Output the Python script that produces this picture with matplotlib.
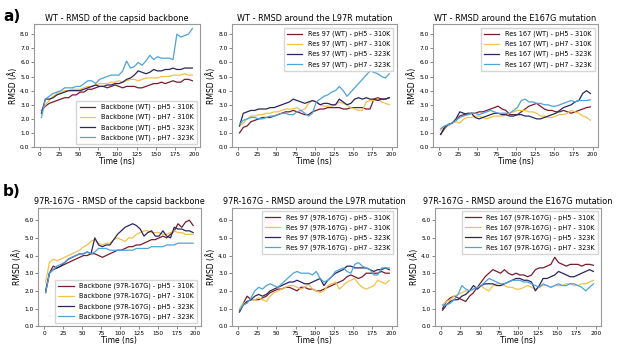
import matplotlib
matplotlib.use("Agg")
import matplotlib.pyplot as plt
from matplotlib.ticker import FormatStrFormatter

# time axis (ns)
TIME = [2, 7, 12, 17, 22, 27, 32, 37, 42, 47, 52, 57, 62, 67, 72, 77, 82, 87, 92, 97,
        102, 107, 112, 117, 122, 127, 132, 137, 142, 147, 152, 157, 162, 167, 172, 177, 182, 187, 192, 197]

CONDITIONS = ["pH5 - 310K", "pH7 - 310K", "pH5 - 323K", "pH7 - 323K"]
COLORS = ["#7a1c2c", "#f2c14e", "#29265f", "#4da3da"]

# a) WT
WT_BB_PH5_310 = [2.6, 2.9, 3.1, 3.2, 3.3, 3.4, 3.5, 3.5, 3.7, 3.7, 3.9, 3.9, 4.1, 4.1, 4.2, 4.3, 4.3, 4.2, 4.3, 4.4,
                 4.3, 4.2, 4.3, 4.3, 4.3, 4.2, 4.2, 4.3, 4.4, 4.5, 4.5, 4.6, 4.5, 4.6, 4.7, 4.6, 4.6, 4.8, 4.8, 4.7]
WT_BB_PH7_310 = [2.6, 3.0, 3.3, 3.6, 3.8, 3.9, 4.0, 4.0, 4.1, 4.1, 4.1, 4.2, 4.3, 4.3, 4.4, 4.5, 4.5, 4.5, 4.6, 4.6,
                 4.7, 4.6, 4.7, 4.8, 4.8, 4.7, 4.8, 4.9, 4.9, 4.9, 4.9, 5.0, 5.0, 5.0, 5.1, 5.1, 5.1, 5.2, 5.1, 5.1]
WT_BB_PH5_323 = [2.4, 3.4, 3.4, 3.5, 3.7, 3.8, 3.9, 4.0, 4.0, 4.0, 4.0, 4.1, 4.2, 4.3, 4.4, 4.3, 4.3, 4.4, 4.4, 4.5,
                 4.5, 4.6, 4.8, 4.9, 5.1, 5.4, 5.3, 5.2, 5.3, 5.5, 5.4, 5.4, 5.5, 5.5, 5.6, 5.5, 5.5, 5.6, 5.6, 5.6]
WT_BB_PH7_323 = [2.1, 3.4, 3.6, 3.8, 3.9, 4.0, 4.2, 4.2, 4.2, 4.3, 4.3, 4.5, 4.7, 4.7, 4.5, 4.8, 4.9, 5.0, 5.1, 5.1,
                 5.1, 5.4, 6.1, 5.6, 5.7, 6.0, 5.8, 6.1, 6.5, 6.2, 6.4, 6.3, 6.3, 6.3, 6.2, 8.0, 7.8, 7.9, 8.0, 8.4]

WT_97_PH5_310 = [1.0, 1.4, 1.5, 1.8, 1.9, 2.0, 2.1, 2.1, 2.1, 2.2, 2.3, 2.4, 2.5, 2.5, 2.6, 2.5, 2.4, 2.3, 2.3, 2.5,
                 2.6, 2.7, 2.7, 2.8, 2.8, 2.8, 2.8, 2.7, 2.7, 2.8, 2.8, 2.8, 2.8, 2.7, 2.7, 3.4, 3.5, 3.4, 3.4, 3.5]
WT_97_PH7_310 = [1.5, 1.7, 2.0, 2.2, 2.2, 2.3, 2.3, 2.4, 2.4, 2.5, 2.5, 2.6, 2.7, 2.7, 2.7, 2.8, 2.6, 2.7, 3.1, 3.3,
                 3.2, 3.0, 2.9, 2.9, 2.9, 3.0, 3.2, 3.1, 3.0, 2.8, 2.7, 2.6, 2.6, 3.2, 3.3, 3.3, 3.4, 3.2, 3.1, 3.0]
WT_97_PH5_323 = [1.5, 2.4, 2.5, 2.6, 2.6, 2.7, 2.7, 2.7, 2.8, 2.8, 2.9, 3.0, 3.1, 3.2, 3.4, 3.3, 3.2, 3.1, 3.2, 3.3,
                 3.2, 3.0, 3.1, 3.1, 3.0, 3.0, 3.4, 3.2, 3.0, 3.1, 3.4, 3.5, 3.4, 3.5, 3.4, 3.4, 3.3, 3.4, 3.4, 3.5]
WT_97_PH7_323 = [1.6, 1.9, 2.0, 2.1, 2.1, 2.0, 2.0, 2.1, 2.2, 2.2, 2.3, 2.4, 2.4, 2.3, 2.3, 2.5, 2.6, 2.4, 2.2, 2.4,
                 3.2, 3.4, 3.6, 3.7, 3.9, 4.0, 4.3, 4.0, 3.6, 3.9, 4.2, 4.5, 4.8, 5.1, 5.4, 5.3, 5.2, 5.0, 4.9, 5.2]

WT_167_PH5_310 = [0.9, 1.3, 1.6, 1.7, 1.9, 2.2, 2.3, 2.4, 2.4, 2.4, 2.5, 2.5, 2.6, 2.7, 2.8, 2.9, 2.7, 2.6, 2.3, 2.3,
                  2.3, 2.5, 2.7, 2.9, 3.0, 3.1, 2.9, 2.7, 2.6, 2.6, 2.5, 2.5, 2.6, 2.5, 2.4, 2.5, 2.6, 2.7, 2.8, 2.85]
WT_167_PH7_310 = [1.2, 1.4, 1.5, 1.7, 1.8, 1.7, 2.0, 2.1, 2.1, 2.2, 2.2, 2.1, 2.0, 2.1, 2.2, 2.2, 2.2, 2.3, 2.4, 2.5,
                  2.6, 2.6, 2.6, 2.5, 2.5, 2.4, 2.2, 2.2, 2.1, 2.1, 2.2, 2.3, 2.3, 2.4, 2.6, 2.5, 2.4, 2.2, 2.1, 1.9]
WT_167_PH5_323 = [0.9, 1.4, 1.6, 1.7, 2.0, 2.5, 2.4, 2.3, 2.4, 2.1, 2.0, 2.1, 2.2, 2.3, 2.4, 2.4, 2.3, 2.3, 2.2, 2.2,
                  2.3, 2.3, 2.2, 2.2, 2.1, 2.0, 2.0, 2.1, 2.2, 2.3, 2.4, 2.6, 2.8, 2.9, 3.0, 3.2, 3.3, 3.8, 4.0, 3.8]
WT_167_PH7_323 = [1.3, 1.5, 1.6, 1.7, 1.9, 2.1, 2.2, 2.3, 2.4, 2.4, 2.3, 2.4, 2.5, 2.6, 2.5, 2.4, 2.4, 2.4, 2.4, 2.6,
                  2.8, 3.3, 3.4, 3.2, 3.2, 3.1, 3.1, 3.0, 3.0, 2.9, 2.9, 3.0, 3.1, 3.2, 3.3, 3.2, 3.3, 3.3, 3.3, 3.35]

# b) 97R-167G
MUT_BB_PH5_310 = [1.9, 3.0, 3.4, 3.3, 3.4, 3.5, 3.6, 3.7, 3.8, 3.9, 4.0, 4.0, 4.1, 4.1, 4.0, 3.9, 4.0, 4.1, 4.2, 4.3,
                  4.3, 4.4, 4.5, 4.5, 4.6, 4.6, 4.7, 4.8, 4.9, 4.9, 5.0, 5.1, 5.0, 5.2, 5.4, 5.8, 5.6, 5.9, 6.0, 5.7]
MUT_BB_PH7_310 = [2.5, 3.6, 3.8, 3.7, 3.8, 3.9, 4.0, 4.1, 4.2, 4.3, 4.5, 4.6, 4.8, 4.9, 4.7, 4.6, 4.7, 4.7, 4.9, 5.0,
                  4.9, 4.8, 5.0, 5.0, 5.2, 5.3, 5.4, 5.4, 5.3, 5.3, 5.3, 5.2, 5.2, 5.3, 5.4, 5.3, 5.3, 5.2, 5.2, 5.2]
MUT_BB_PH5_323 = [2.0, 3.0, 3.2, 3.3, 3.4, 3.6, 3.8, 3.9, 4.0, 4.1, 4.1, 4.2, 4.1, 5.0, 4.6, 4.5, 4.6, 4.6, 4.9, 5.2,
                  5.4, 5.6, 5.7, 5.8, 5.7, 5.5, 5.1, 5.3, 5.4, 5.1, 5.1, 5.4, 5.1, 5.0, 5.6, 5.5, 5.5, 5.4, 5.4, 5.3]
MUT_BB_PH7_323 = [1.9, 3.0, 3.2, 3.4, 3.5, 3.6, 3.8, 3.9, 4.0, 4.1, 4.1, 4.2, 4.1, 4.2, 4.4, 4.4, 4.4, 4.3, 4.3, 4.3,
                  4.3, 4.3, 4.3, 4.3, 4.4, 4.4, 4.4, 4.4, 4.5, 4.5, 4.5, 4.5, 4.6, 4.6, 4.6, 4.7, 4.7, 4.7, 4.7, 4.7]

MUT_97_PH5_310 = [0.9, 1.3, 1.7, 1.5, 1.5, 1.5, 1.6, 1.7, 1.9, 2.0, 2.1, 2.1, 2.2, 2.2, 2.1, 2.0, 2.2, 2.2, 2.1, 2.1,
                  2.0, 2.0, 2.1, 2.2, 2.3, 2.4, 2.5, 2.6, 2.8, 2.9, 2.8, 2.7, 2.8, 3.0, 3.0, 3.0, 3.0, 3.1, 3.0, 3.0]
MUT_97_PH7_310 = [1.0, 1.3, 1.4, 1.5, 1.5, 1.6, 1.5, 1.4, 1.7, 1.9, 2.0, 2.1, 2.2, 2.3, 2.3, 2.2, 2.1, 2.2, 2.4, 2.1,
                  2.0, 1.9, 2.0, 2.3, 2.4, 2.5, 2.1, 2.3, 2.5, 2.6, 2.7, 2.4, 2.2, 2.1, 2.2, 2.3, 2.6, 2.5, 2.4, 2.6]
MUT_97_PH5_323 = [0.8, 1.2, 1.4, 1.5, 1.7, 1.8, 1.7, 1.8, 2.0, 2.1, 2.2, 2.3, 2.4, 2.5, 2.5, 2.6, 2.5, 2.4, 2.4, 2.5,
                  2.6, 2.7, 2.3, 2.6, 2.8, 3.0, 3.1, 3.2, 3.4, 3.4, 3.3, 3.3, 3.3, 3.3, 3.2, 3.1, 3.2, 3.2, 3.3, 3.2]
MUT_97_PH7_323 = [0.9, 1.2, 1.3, 1.6, 2.0, 2.2, 2.1, 2.3, 2.4, 2.3, 2.2, 2.4, 2.6, 2.8, 3.0, 3.1, 3.0, 3.0, 3.0, 2.9,
                  3.1, 2.7, 2.5, 2.6, 2.8, 3.1, 3.2, 3.3, 3.1, 3.0, 3.5, 3.6, 3.4, 3.3, 3.2, 2.9, 2.9, 3.3, 3.3, 3.3]

MUT_167_PH5_310 = [1.0, 1.4, 1.6, 1.7, 1.6, 1.5, 1.4, 1.7, 1.9, 2.2, 2.5, 2.8, 3.0, 3.2, 3.1, 3.0, 3.2, 3.0, 2.9, 3.0,
                   2.9, 2.9, 2.8, 2.9, 3.2, 3.3, 3.3, 3.4, 3.5, 3.9, 3.6, 3.5, 3.4, 3.5, 3.5, 3.5, 3.4, 3.5, 3.5, 3.45]
MUT_167_PH7_310 = [1.2, 1.4, 1.5, 1.7, 1.8, 1.9, 2.0, 2.0, 2.1, 2.2, 2.3, 2.1, 2.0, 2.3, 2.4, 2.4, 2.3, 2.2, 2.2, 2.1,
                   2.1, 2.2, 2.3, 2.2, 2.1, 2.2, 2.3, 2.3, 2.2, 2.3, 2.3, 2.3, 2.4, 2.4, 2.3, 2.3, 2.4, 2.4, 2.5, 2.6]
MUT_167_PH5_323 = [0.9, 1.2, 1.4, 1.5, 1.5, 1.7, 1.8, 2.0, 2.3, 2.1, 2.3, 2.4, 2.4, 2.4, 2.3, 2.3, 2.4, 2.5, 2.6, 2.7,
                   2.7, 2.6, 2.6, 2.5, 2.0, 2.3, 2.7, 2.7, 2.8, 2.9, 3.1, 3.0, 2.9, 2.8, 2.8, 2.9, 3.0, 3.1, 3.2, 3.1]
MUT_167_PH7_323 = [1.2, 1.2, 1.3, 1.5, 1.8, 2.3, 2.1, 2.0, 2.1, 2.2, 2.3, 2.5, 2.7, 2.6, 2.5, 2.4, 2.4, 2.5, 2.6, 2.6,
                   2.6, 2.5, 2.5, 2.4, 2.3, 2.2, 2.4, 2.3, 2.2, 2.3, 2.4, 2.3, 2.3, 2.4, 2.4, 2.3, 2.2, 2.0, 2.2, 2.4]

panels = [
    # (rect, title, legend prefix, series, ymax, legend loc)
    ([0.055, 0.576, 0.269, 0.354], "WT - RMSD of the capsid backbone", "Backbone (WT)",
     [WT_BB_PH5_310, WT_BB_PH7_310, WT_BB_PH5_323, WT_BB_PH7_323], 8.7, "lower right"),
    ([0.376, 0.576, 0.267, 0.354], "WT - RMSD around the L97R mutation", "Res 97 (WT)",
     [WT_97_PH5_310, WT_97_PH7_310, WT_97_PH5_323, WT_97_PH7_323], 8.7, "upper right"),
    ([0.702, 0.576, 0.267, 0.354], "WT - RMSD around the E167G mutation", "Res 167 (WT)",
     [WT_167_PH5_310, WT_167_PH7_310, WT_167_PH5_323, WT_167_PH7_323], 8.7, "upper right"),
    ([0.062, 0.060, 0.263, 0.341], "97R-167G - RMSD of the capsid backbone", "Backbone (97R-167G)",
     [MUT_BB_PH5_310, MUT_BB_PH7_310, MUT_BB_PH5_323, MUT_BB_PH7_323], 6.7, "lower right"),
    ([0.376, 0.060, 0.267, 0.341], "97R-167G - RMSD around the L97R mutation", "Res 97 (97R-167G)",
     [MUT_97_PH5_310, MUT_97_PH7_310, MUT_97_PH5_323, MUT_97_PH7_323], 6.7, "upper right"),
    ([0.705, 0.060, 0.269, 0.341], "97R-167G - RMSD around the E167G mutation", "Res 167 (97R-167G)",
     [MUT_167_PH5_310, MUT_167_PH7_310, MUT_167_PH5_323, MUT_167_PH7_323], 6.7, "upper right"),
]

fig = plt.figure(figsize=(6.17, 3.47), dpi=100)

for rect, title, prefix, series, ymax, loc in panels:
    ax = fig.add_axes(rect)
    for vals, cond, col in zip(series, CONDITIONS, COLORS):
        ax.plot(TIME, vals, color=col, lw=0.9, label=f"{prefix} - {cond}")
    ax.set_ylim(0, ymax)
    ax.set_xticks(range(0, 201, 25))
    ax.yaxis.set_major_formatter(FormatStrFormatter("%.1f"))
    ax.tick_params(labelsize=4.2, length=2, width=0.5, pad=1.2, color="#555555")
    ax.set_title(title, fontsize=5.9, pad=2.5)
    ax.set_xlabel("Time (ns)", fontsize=5.5, labelpad=0.5)
    ax.set_ylabel("RMSD (Å)", fontsize=5.5, labelpad=1.5)
    for sp in ax.spines.values():
        sp.set_color("#999999")
        sp.set_linewidth(0.8)
    ax.legend(loc=loc, fontsize=4.7, handlelength=2.4, labelspacing=0.55,
              borderpad=0.5, frameon=True, fancybox=False, edgecolor="#cccccc")

fig.text(0.005, 0.975, "a)", fontsize=11, fontweight="bold", va="top")
fig.text(0.005, 0.47, "b)", fontsize=11, fontweight="bold", va="top")

fig.savefig("out.png", dpi=100)
